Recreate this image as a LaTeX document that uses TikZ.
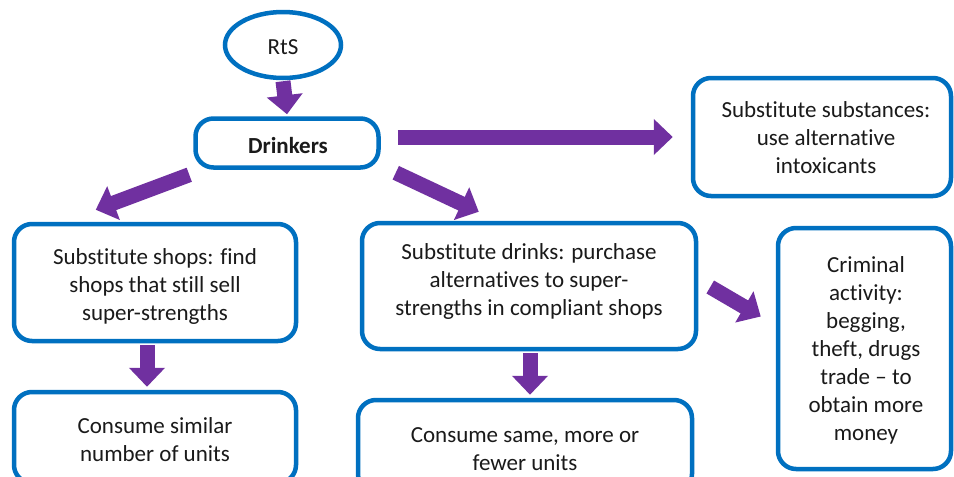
\documentclass[tikz,border=0pt]{standalone}
\usepackage{fontspec}
\setmainfont{Carlito}[Ligatures={NoCommon}]
\usetikzlibrary{arrows.meta,shapes.geometric,calc}
\definecolor{bblue}{HTML}{0070C0}
\definecolor{ppurple}{HTML}{7030A0}
\definecolor{txtc}{HTML}{1A1A1A}
\begin{document}
\begin{tikzpicture}[x=1pt,y=-1pt,
 box/.style={draw=bblue,line width=4.5pt,rounded corners=18pt,fill=white,inner sep=0pt},
 txt/.style={align=center,font=\fontsize{23}{28}\selectfont,text=txtc,inner sep=0pt},
 arr/.style={draw=ppurple,line width=15pt,-{Triangle[length=19pt,width=35pt]}},
]
\clip (0,0) rectangle (954,477);
\fill[white] (0,0) rectangle (954,477);
% boxes
\node[box, ellipse, minimum width=116pt, minimum height=66pt] (rts) at (283,45) {};
\node[txt, font=\fontsize{23}{28}\selectfont] (rtst) at (283,47) {RtS};
\node[box, minimum width=183pt, minimum height=49pt] (drinkers) at (287,143) {};
\node[txt, font=\fontsize{23}{28}\selectfont\bfseries] (drinkerst) at (288,146) {Drinkers};
\node[box, minimum width=258pt, minimum height=118pt] (subs) at (822,137) {};
\node[txt] (subst) at (826,138) {Substitute substances:\\use alternative\\intoxicants};
\node[box, minimum width=282pt, minimum height=117pt] (shops) at (155,282.5) {};
\node[txt] (shopst) at (155,286) {Substitute shops: find\\shops that still sell\\super-strengths};
\node[box, minimum width=334pt, minimum height=126pt] (drinks) at (529,286) {};
\node[txt] (drinkst) at (529,281) {Substitute drinks: purchase\\alternatives to super-\\strengths in compliant shops};
\node[box, minimum width=173pt, minimum height=241pt] (crim) at (864.5,348.5) {};
\node[txt] (crimt) at (866,350) {Criminal\\activity:\\begging,\\theft, drugs\\trade -- to\\obtain more\\money};
\node[box, minimum width=282pt, minimum height=91pt] (similar) at (155,437.5) {};
\node[txt] (similart) at (155,440) {Consume similar\\number of units};
\node[box, minimum width=334pt, minimum height=92pt] (same) at (525,446) {};
\node[txt] (samet) at (525,449) {Consume same, more or\\fewer units};
% arrows
\draw[arr] ($(rts.south)+(0,1)$) -- ($(drinkers.north)+(0,-2)$);
\draw[arr] ($(drinkers.east)+(17,-6)$) -- ($(subs.west)+(-18,0)$);
\draw[arr] ($(drinkers.south west)+(-4,5)$) -- ($(shops.north west)+(84,-12)$);
\draw[arr] ($(drinkers.south east)+(15,3)$) -- ($(drinks.north west)+(119,-9)$);
\draw[arr] ($(drinks.east)+(12,1)$) -- ($(crim.west)+(-15,-32)$);
\draw[arr] ($(shops.south)+(-8,2)$) -- ($(similar.north)+(-8,-3)$);
\draw[arr] ($(drinks.south)+(1,2)$) -- ($(same.north)+(5,-3)$);
\end{tikzpicture}
\end{document}
